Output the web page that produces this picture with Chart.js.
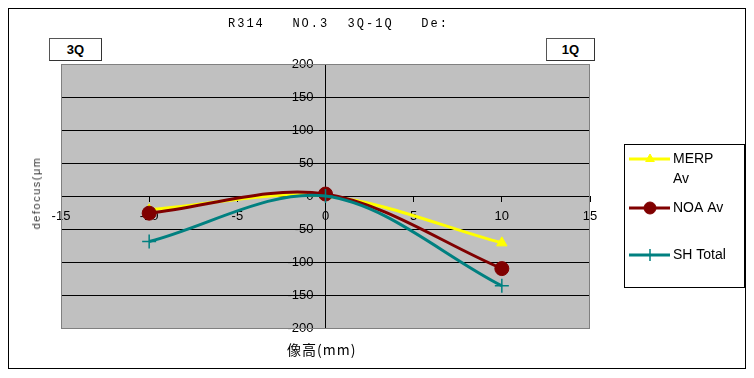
<!DOCTYPE html>
<html>
<head>
<meta charset="utf-8">
<script src="https://cdn.jsdelivr.net/npm/chart.js@4.4.0/dist/chart.umd.min.js"></script>
<style>
    html, body { margin: 0; padding: 0; background: #fff; }
    #wrap { position: relative; width: 754px; height: 378px; overflow: hidden; font-family: "Liberation Sans", Arial, sans-serif; }
    #frame { position: absolute; left: 8px; top: 8px; width: 738px; height: 361px; border: 1px solid #000; box-sizing: border-box; }
    #chart { position: absolute; left: 0; top: 0; }
    .title { position: absolute; left: 228px; top: 17px; font-family: "Liberation Mono", "DejaVu Sans Mono", monospace; font-size: 12px; letter-spacing: 2px; white-space: pre; color: #000; }
    .qbox { position: absolute; top: 38px; height: 23px; border: 1px solid #555; border-right-color: #333; border-bottom-color: #333; background: #fff; font-weight: bold; font-size: 13px; text-align: center; line-height: 22px; box-sizing: border-box; }
    .ytitle { position: absolute; left: 36px; top: 193px; transform: translate(-50%, -50%) rotate(-90deg); font-size: 11px; letter-spacing: 1.5px; white-space: pre; color: #333; }
    .xtitle { position: absolute; left: 287px; top: 339px; font-family: "Noto Sans CJK JP", sans-serif; font-size: 14px; letter-spacing: 1px; color: #000; }
</style>
</head>
<body>
<div id="wrap">
    <div id="frame"></div>
    <canvas id="chart" width="754" height="378"></canvas>
    <div class="title">R314   NO.3  3Q-1Q   De:</div>
    <div class="qbox" style="left:49px;width:53px;">3Q</div>
    <div class="qbox" style="left:546px;width:49px;">1Q</div>
    <div class="ytitle">defocus(μm</div>
    <div class="xtitle">像高(mm)</div>
</div>
<script>
// image height positions (mm)
var positions = [-10, 0, 10];

// defocus values (um)
var merpAv = [-21, 0, -71];
var noaAv = [-26, 3, -110];
var shTotal = [-69, 0, -136];

var seriesNames = ['MERP Av', 'NOA Av', 'SH Total'];
var legendLines = [['MERP', 'Av'], ['NOA Av'], ['SH Total']];

var xMin = -15, xMax = 15, xStep = 5;
var yMin = -200, yMax = 200, yStep = 50;

var tickFont = '13px "Liberation Sans", Arial, sans-serif';

function toPoints(values) {
    return values.map(function(v, i) { return { x: positions[i], y: v }; });
}

// gray plot area with gray frame
var plotBackground = {
    id: 'plotBackground',
    beforeDraw: function(chart) {
        var a = chart.chartArea, ctx = chart.ctx;
        ctx.save();
        ctx.fillStyle = '#c0c0c0';
        ctx.fillRect(a.left, a.top, a.right - a.left, a.bottom - a.top);
        ctx.restore();
    },
    afterDatasetsDraw: function(chart) {
        var a = chart.chartArea, ctx = chart.ctx;
        ctx.save();
        ctx.strokeStyle = '#808080';
        ctx.lineWidth = 1;
        ctx.strokeRect(a.left + 0.5, a.top + 0.5, a.right - a.left - 1, a.bottom - a.top);
        ctx.restore();
    }
};

// y labels sit a bit left of the centre axis
var yLabels = {
    id: 'yLabels',
    beforeDatasetsDraw: function(chart) {
        var ctx = chart.ctx, ys = chart.scales.y;
        var x0 = chart.scales.x.getPixelForValue(0) - 12;
        ctx.save();
        ctx.fillStyle = '#000';
        ctx.font = tickFont;
        ctx.textAlign = 'right';
        ctx.textBaseline = 'middle';
        ys.ticks.forEach(function(t) {
            ctx.fillText(String(t.value), x0, ys.getPixelForValue(t.value));
        });
        ctx.restore();
    }
};

// boxed legend on the right, like the spreadsheet one
var boxLegend = {
    id: 'boxLegend',
    afterDraw: function(chart) {
        var ctx = chart.ctx;
        var rowY = [159, 208, 255];
        ctx.save();
        ctx.strokeStyle = '#000';
        ctx.lineWidth = 1;
        ctx.strokeRect(624.5, 144.5, 120, 143);
        chart.data.datasets.forEach(function(ds, i) {
            var y = rowY[i];
            ctx.strokeStyle = ds.borderColor;
            ctx.lineWidth = 3;
            ctx.beginPath();
            ctx.moveTo(629, y);
            ctx.lineTo(670, y);
            ctx.stroke();
            ctx.fillStyle = ds.pointBackgroundColor;
            ctx.strokeStyle = ds.pointBorderColor;
            ctx.lineWidth = ds.pointBorderWidth;
            Chart.helpers.drawPoint(ctx, {
                pointStyle: ds.pointStyle,
                radius: ds.pointRadius - 1,
                rotation: 0,
                borderWidth: ds.pointBorderWidth
            }, 650, y);
            ctx.fillStyle = '#000';
            ctx.font = '14px "Liberation Sans", Arial, sans-serif';
            ctx.textBaseline = 'middle';
            legendLines[i].forEach(function(line, j) {
                ctx.fillText(line, 673, y + j * 20);
            });
        });
        ctx.restore();
    }
};

var ctx = document.getElementById('chart');
var chart = new Chart(ctx, {
    type: 'line',
    data: {
        datasets: [{
            label: seriesNames[0],
            data: toPoints(merpAv),
            borderColor: '#ffff00',
            backgroundColor: '#ffff00',
            pointBackgroundColor: '#ffff00',
            pointBorderColor: '#ffff00',
            pointBorderWidth: 1,
            pointStyle: 'triangle',
            pointRadius: 6,
            borderWidth: 3,
            tension: 0.33,
            order: 3
        }, {
            label: seriesNames[1],
            data: toPoints(noaAv),
            borderColor: '#800000',
            backgroundColor: '#800000',
            pointBackgroundColor: '#800000',
            pointBorderColor: '#800000',
            pointBorderWidth: 1,
            pointStyle: 'circle',
            pointRadius: 7,
            borderWidth: 3,
            tension: 0.33,
            order: 2
        }, {
            label: seriesNames[2],
            data: toPoints(shTotal),
            borderColor: '#008080',
            backgroundColor: '#008080',
            pointBackgroundColor: '#008080',
            pointBorderColor: '#008080',
            pointBorderWidth: 1.5,
            pointStyle: 'cross',
            pointRadius: 7,
            borderWidth: 3,
            tension: 0.33,
            order: 1
        }]
    },
    options: {
        responsive: false,
        animation: false,
        layout: { padding: { left: 61, top: 64, right: 164, bottom: 50 } },
        plugins: {
            legend: { display: false },
            tooltip: { enabled: false }
        },
        scales: {
            x: {
                type: 'linear',
                min: xMin,
                max: xMax,
                position: { y: 0 },
                ticks: {
                    stepSize: xStep,
                    color: '#000',
                    padding: 8,
                    font: { family: '"Liberation Sans", Arial, sans-serif', size: 13 }
                },
                grid: { drawOnChartArea: false, tickLength: 5, tickColor: '#000' },
                border: { color: '#000', width: 1 }
            },
            y: {
                min: yMin,
                max: yMax,
                position: { x: 0 },
                ticks: { stepSize: yStep, display: false },
                grid: {
                    color: function(c) {
                        return (c.tick && Math.abs(c.tick.value) === yMax) ? '#808080' : '#000';
                    },
                    tickLength: 6,
                    tickColor: '#000'
                },
                border: { color: '#000', width: 1 }
            }
        }
    },
    plugins: [plotBackground, yLabels, boxLegend]
});
</script>
</body>
</html>
